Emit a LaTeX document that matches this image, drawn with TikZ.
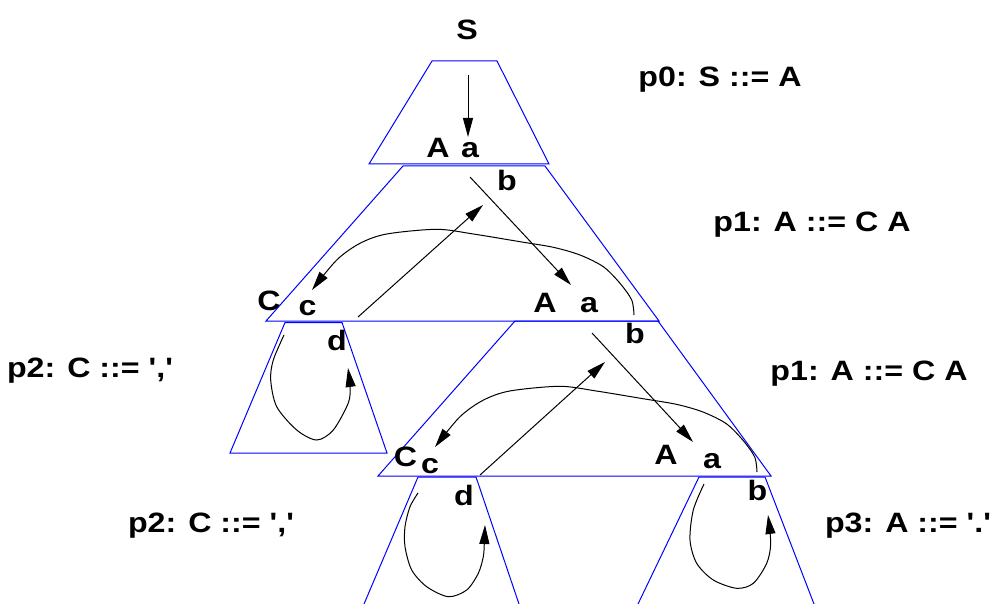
\documentclass[tikz,border=0pt]{standalone}
\usepackage{fontspec}
\usepackage{graphicx}
\setmainfont{Liberation Sans}
\usetikzlibrary{arrows.meta}
\newcommand\lbtx[1]{\scalebox{1.15}[1]{#1}}
\newcommand\q{\textquotesingle}
\tikzset{
  lab/.style={font=\fontsize{28}{28}\selectfont\bfseries, anchor=base, inner sep=0pt},
  trap/.style={draw=blue, line width=1pt, line join=miter},
  arr/.style={draw=black, line width=1pt, -{Triangle[length=19pt,width=10pt]}},
}
\begin{document}
\begin{tikzpicture}[x=1pt,y=-1pt]
\useasboundingbox (0,0) rectangle (992,604);
% trapezoids
\draw[trap] (432,61) -- (497,61) -- (549,164) -- (369,164) -- cycle;
\draw[trap] (403,166) -- (545,166) -- (659,321) -- (266,321) -- cycle;
\draw[trap] (285,322.5) -- (342,322.5) -- (387,453) -- (230,453) -- cycle;
\draw[trap] (515,321) -- (658,321) -- (771,476) -- (378,476) -- cycle;
\draw[trap] (364,604) -- (418,477) -- (476,477) -- (519,604);
\draw[trap] (638,604) -- (699,477) -- (765,477) -- (814,604);
% labels
\node[lab] (S) at (467,40) {\lbtx{S}};
\node[lab] (A0) at (438,158) {\lbtx{A}};
\node[lab] (a0) at (470,158) {\lbtx{a}};
\node[lab] (b0) at (507,190) {\lbtx{b}};
\node[lab] (C1) at (269,310) {\lbtx{C}};
\node[lab] (c1) at (307.5,315) {\lbtx{c}};
\node[lab] (A1) at (545,312) {\lbtx{A}};
\node[lab] (a1) at (589,312) {\lbtx{a}};
\node[lab] (b1) at (635,343) {\lbtx{b}};
\node[lab] (d1) at (337,350) {\lbtx{d}};
\node[lab] (C2) at (405.5,466) {\lbtx{C}};
\node[lab] (c2) at (430,473) {\lbtx{c}};
\node[lab] (A2) at (666,464) {\lbtx{A}};
\node[lab] (a2) at (712,468) {\lbtx{a}};
\node[lab] (b2) at (757.5,500) {\lbtx{b}};
\node[lab] (d2) at (464,505) {\lbtx{d}};
\node[lab] (p0) at (720,87) {\lbtx{p0: S ::= A}};
\node[lab] (p1a) at (812,231) {\lbtx{p1: A ::= C A}};
\node[lab] (p2a) at (90,377) {\lbtx{p2: C ::= \q,\q}};
\node[lab] (p1b) at (869,380) {\lbtx{p1: A ::= C A}};
\node[lab] (p2b) at (211,532) {\lbtx{p2: C ::= \q,\q}};
\node[lab] (p3) at (908,532) {\lbtx{p3: A ::= \q.\q}};
% arrow end points
\coordinate (t0s) at (468,75);   \coordinate (t0e) at (468,137);
\coordinate (t1as) at (470,177); \coordinate (t1ae) at (571,285);
\coordinate (t1bs) at (358,317); \coordinate (t1be) at (483,205);
\coordinate (t1cs) at (634,315); \coordinate (t1ce) at (312,290);
\coordinate (t2s) at (284,335);  \coordinate (t2e) at (348,368);
\coordinate (t3as) at (592,333); \coordinate (t3ae) at (693,442);
\coordinate (t3bs) at (480,475); \coordinate (t3be) at (605,362);
\coordinate (t3cs) at (757,472); \coordinate (t3ce) at (435,447);
\coordinate (t4s) at (418,493);  \coordinate (t4e) at (485,525);
\coordinate (t5s) at (704,484);  \coordinate (t5e) at (768,515);
% arrows
\draw[arr] (t0s) -- (t0e);
\draw[arr] (t1as) -- (t1ae);
\draw[arr] (t1bs) -- (t1be);
\draw[arr] plot[smooth] coordinates {(t1cs) (631.7,300) (620,283.3) (603.3,266.7) (580,255) (553.3,247.3) (520,241.7) (473.3,234) (436.7,229.3) (386.7,234) (360,243.3) (336.7,260) (t1ce)};
\draw[arr] plot[smooth] coordinates {(t2s) (273.3,360) (270.7,380) (276.7,406.7) (296.7,430) (316.7,440) (333.3,430) (348.3,403) (350,386.7) (t2e)};
\draw[arr] (t3as) -- (t3ae);
\draw[arr] (t3bs) -- (t3be);
\draw[arr] plot[smooth] coordinates {(t3cs) (754.7,457) (743,440.3) (726.3,423.7) (703,412) (676.3,404.3) (643,398.7) (596.3,391) (559.7,386.3) (509.7,391) (483,400.3) (459.7,417) (t3ce)};
\draw[arr] plot[smooth] coordinates {(t4s) (410,506.7) (405,526.7) (405,546.7) (411.7,570) (426.7,586.7) (448.3,596.7) (466.7,590) (478.3,573.3) (483.3,556.7) (484.3,543.3) (t4e)};
\draw[arr] plot[smooth] coordinates {(t5s) (693.3,510) (690,540) (696.7,563.3) (713.3,580) (736.7,588.3) (753.3,583.3) (766.7,563.3) (770.7,543.3) (t5e)};
\end{tikzpicture}
\end{document}
